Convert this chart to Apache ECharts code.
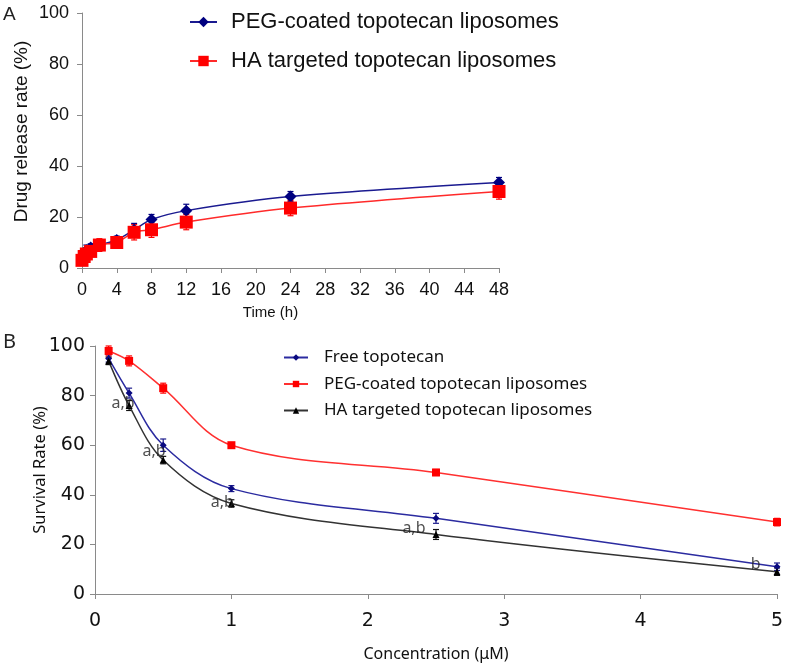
<!DOCTYPE html>
<html><head><meta charset="utf-8">
<script src="https://cdn.jsdelivr.net/npm/echarts@6/dist/echarts.min.js"></script>
<style>html,body{margin:0;padding:0;background:#fff}#c{width:789px;height:670px}</style>
</head><body><div id="c"></div>
<script>
// Panel A data
const timeA = [0, 0.25, 0.5, 1, 2, 4, 6, 8, 12, 24, 48];
const pegA = [3.5, 5, 7, 8, 9, 11, 15, 19, 22.5, 28, 33.5];
const pegAErr = [1.5, 2, 2, 1.5, 2, 1.5, 2.5, 2, 2.5, 2, 2];
const haA = [3, 4.5, 5.5, 6.5, 9, 10, 14, 15, 18, 23.5, 30];
const haAErr = [2, 2, 2, 2, 2.5, 2, 3, 3, 3, 3, 3];
const xTicksA = [0, 4, 8, 12, 16, 20, 24, 28, 32, 36, 40, 44, 48];
// Panel B data
const concB = [0.1, 0.25, 0.5, 1, 2.5, 5];
const freeB = [95, 81, 60, 42.5, 30.5, 11];
const freeBErr = [1.5, 2, 2.5, 1.2, 2, 1.5];
const pegB = [98, 94, 83, 60, 49, 29];
const pegBErr = [2, 2, 2, 0.8, 1.2, 1.5];
const haB = [94, 76, 54, 36.5, 24, 9];
const haBErr = [1.5, 2, 1.5, 1.5, 2, 1.5];
const annoText = ['a,b', 'a,b', 'a,b', 'a,b', 'b'];
const annoX = [0.25, 0.5, 1, 2.5, 5];
const annoY = [77, 57.5, 37, 26.6, 12];
const annoGap = [-6, -3, -3, 10, 16];

const chart = echarts.init(document.getElementById('c'));
const pair = (xs, ys) => xs.map((x, i) => [x, ys[i]]);
const errData = (xs, ys, es) => xs.map((x, i) => [x, ys[i] - es[i], ys[i] + es[i]]);
function errSeries(xs, ys, es, color, xi, capW) {
  return {
    type: 'custom', xAxisIndex: xi, yAxisIndex: xi, silent: true, z: 1,
    data: errData(xs, ys, es),
    renderItem: function (params, api) {
      const lo = api.coord([api.value(0), api.value(1)]);
      const hi = api.coord([api.value(0), api.value(2)]);
      const s = { stroke: color, lineWidth: 1.2 };
      return { type: 'group', children: [
        { type: 'line', shape: { x1: lo[0], y1: lo[1], x2: hi[0], y2: hi[1] }, style: s },
        { type: 'line', shape: { x1: lo[0] - capW, y1: lo[1], x2: lo[0] + capW, y2: lo[1] }, style: s },
        { type: 'line', shape: { x1: hi[0] - capW, y1: hi[1], x2: hi[0] + capW, y2: hi[1] }, style: s }
      ]};
    }
  };
}
const axisGray = '#8a8a8a';
const fA = 'Liberation Sans, Arial, sans-serif';
const fB = 'Noto Sans, DejaVu Sans, sans-serif';
const fBt = 'DejaVu Sans, Verdana, sans-serif';

const option = {
  animation: false,
  backgroundColor: '#fff',
  grid: [
    { left: 82, top: 13, width: 417, height: 255 },
    { left: 95, top: 346, width: 682, height: 248 }
  ],
  title: [
    { text: 'A', left: 3, top: 5, padding: 0, textStyle: { fontFamily: fA, fontSize: 19, fontWeight: 'normal', color: '#222' } },
    { text: 'B', left: 3, top: 332, padding: 0, textStyle: { fontFamily: fB, fontSize: 20, fontWeight: 'normal', color: '#222' } }
  ],
  legend: [
    { left: 189, top: 11, padding: 0, orient: 'vertical', itemGap: 17, itemWidth: 27, itemHeight: 13,
      textStyle: { fontFamily: fA, fontSize: 22, color: '#111', padding: [0, 0, 0, 9] },
      data: ['PEG-coated topotecan liposomes', 'HA targeted topotecan liposomes'] },
    { left: 283, top: 349, padding: 0, orient: 'vertical', itemGap: 9.5, itemWidth: 24, itemHeight: 8,
      textStyle: { fontFamily: fB, fontSize: 17, color: '#111', padding: [0, 0, 0, 11] },
      data: ['Free topotecan', 'PEG-coated topotecan liposomes ', 'HA targeted topotecan liposomes '] }
  ],
  xAxis: [
    { type: 'value', gridIndex: 0, min: 0, max: 48, interval: 4,
      name: 'Time (h)', nameLocation: 'middle', nameGap: 37, nameMoveOverlap: false,
      nameTextStyle: { fontFamily: fA, fontSize: 15, color: '#111', padding: [0, 40, 0, 0] },
      axisLine: { lineStyle: { color: axisGray } },
      axisTick: { lineStyle: { color: axisGray }, length: 5 },
      axisLabel: { fontFamily: fA, fontSize: 18, color: '#111', margin: 13,
        formatter: v => xTicksA.includes(v) ? String(v) : '' },
      splitLine: { show: false } },
    { type: 'value', gridIndex: 1, min: 0, max: 5, interval: 1,
      name: 'Concentration (μM)', nameLocation: 'middle', nameGap: 52, nameMoveOverlap: false,
      nameTextStyle: { fontFamily: fB, fontSize: 16, color: '#111' },
      axisLine: { lineStyle: { color: axisGray } },
      axisTick: { lineStyle: { color: axisGray }, length: 5 },
      axisLabel: { fontFamily: fBt, fontSize: 19, color: '#111', margin: 18 },
      splitLine: { show: false } }
  ],
  yAxis: [
    { type: 'value', gridIndex: 0, min: 0, max: 100, interval: 20,
      name: 'Drug release rate (%)', nameLocation: 'middle', nameGap: 51, nameRotate: 90, nameMoveOverlap: false,
      nameTextStyle: { fontFamily: fA, fontSize: 19, color: '#111', padding: [0, 0, 0, 18] },
      axisLine: { show: true, lineStyle: { color: axisGray } },
      axisTick: { show: true, lineStyle: { color: axisGray }, length: 5 },
      axisLabel: { fontFamily: fA, fontSize: 18, color: '#111', margin: 13 },
      splitLine: { show: false } },
    { type: 'value', gridIndex: 1, min: 0, max: 100, interval: 20,
      name: 'Survival Rate (%)', nameLocation: 'middle', nameGap: 46, nameRotate: 90, nameMoveOverlap: false,
      nameTextStyle: { fontFamily: fB, fontSize: 16.5, color: '#111' },
      axisLine: { show: true, lineStyle: { color: axisGray } },
      axisTick: { show: true, lineStyle: { color: axisGray }, length: 5 },
      axisLabel: { fontFamily: fBt, fontSize: 19, color: '#111', margin: 10 },
      splitLine: { show: false } }
  ],
  series: [
    errSeries(timeA, pegA, pegAErr, '#000080', 0, 3),
    { name: 'PEG-coated topotecan liposomes', type: 'line', xAxisIndex: 0, yAxisIndex: 0,
      data: pair(timeA, pegA), smooth: 0.3, symbol: 'diamond', symbolSize: 12,
      lineStyle: { color: '#1a1a90', width: 1.5 }, itemStyle: { color: '#000080' }, z: 2 },
    errSeries(timeA, haA, haAErr, '#ff0000', 0, 3),
    { name: 'HA targeted topotecan liposomes', type: 'line', xAxisIndex: 0, yAxisIndex: 0,
      data: pair(timeA, haA), smooth: 0.3, symbol: 'rect', symbolSize: 13,
      lineStyle: { color: '#ff2a2a', width: 1.5 }, itemStyle: { color: '#ff0000' }, z: 3 },

    errSeries(concB, pegB, pegBErr, '#ff0000', 1, 3),
    { name: 'PEG-coated topotecan liposomes ', type: 'line', xAxisIndex: 1, yAxisIndex: 1,
      data: pair(concB, pegB), smooth: 0.35, symbol: 'rect', symbolSize: 8,
      lineStyle: { color: '#ff3030', width: 1.5 }, itemStyle: { color: '#ff0000' }, z: 2 },
    errSeries(concB, freeB, freeBErr, '#1c1c8c', 1, 3),
    { name: 'Free topotecan', type: 'line', xAxisIndex: 1, yAxisIndex: 1,
      data: pair(concB, freeB), smooth: 0.35, symbol: 'diamond', symbolSize: 7,
      lineStyle: { color: '#2b2ba0', width: 1.5 }, itemStyle: { color: '#0a0a80' }, z: 3 },
    errSeries(concB, haB, haBErr, '#111', 1, 3),
    { name: 'HA targeted topotecan liposomes ', type: 'line', xAxisIndex: 1, yAxisIndex: 1,
      data: pair(concB, haB), smooth: 0.35, symbol: 'triangle', symbolSize: 7,
      lineStyle: { color: '#333', width: 1.5 }, itemStyle: { color: '#000' }, z: 4 },
    { type: 'scatter', xAxisIndex: 1, yAxisIndex: 1, symbol: 'circle', symbolSize: 1, silent: true, z: 6,
      itemStyle: { color: 'rgba(0,0,0,0)' },
      data: annoX.map((x, i) => ({ value: [x, annoY[i]], label: { formatter: annoText[i], distance: annoGap[i] } })),
      label: { show: true, position: 'left', fontFamily: fB, fontSize: 16, color: '#222' } }
  ]
};
chart.setOption(option);
</script></body></html>
